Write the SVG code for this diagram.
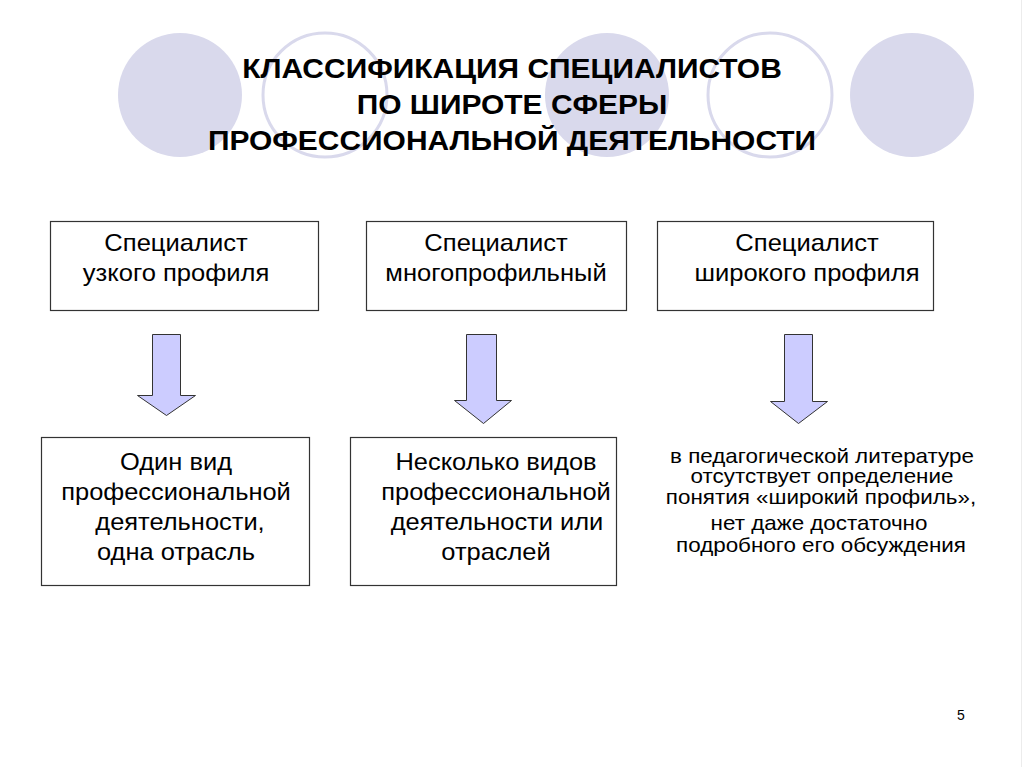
<svg xmlns="http://www.w3.org/2000/svg" width="1024" height="767" viewBox="0 0 1024 767">
<style>
.bg{fill:#ffffff}
.cf{fill:#d9d9ec}
.co{fill:none;stroke:#d9d9ec;stroke-width:3}
.title{font-family:"Liberation Sans",Arial,sans-serif;font-weight:bold;font-size:28px;fill:#000;text-anchor:middle}
.box{fill:#ffffff;stroke:#333333;stroke-width:1.2}
.t24{font-family:"Liberation Sans",Arial,sans-serif;font-size:24px;fill:#000;text-anchor:middle}
.t20{font-family:"Liberation Sans",Arial,sans-serif;font-size:20px;fill:#000;text-anchor:middle}
.arrow{fill:#ccccff;stroke:#333333;stroke-width:1}
.num{font-family:"Liberation Sans",Arial,sans-serif;font-size:14px;fill:#000;text-anchor:middle}
</style>
<rect class="bg" x="0" y="0" width="1024" height="767"/>
<line x1="1021.5" y1="0" x2="1021.5" y2="767" stroke="#ececec" stroke-width="1"/>
<g id="decor">
<circle class="cf" cx="180" cy="95" r="62"/>
<circle class="co" cx="325" cy="95" r="62"/>
<circle class="cf" cx="607" cy="95" r="62"/>
<circle class="co" cx="770" cy="95" r="62"/>
<circle class="cf" cx="912" cy="95" r="62"/>
</g>
<g id="title">
<text class="title" transform="matrix(1.07,0,0,1,512,78)">КЛАССИФИКАЦИЯ СПЕЦИАЛИСТОВ</text>
<text class="title" transform="matrix(1.07,0,0,1,512,114)">ПО ШИРОТЕ СФЕРЫ</text>
<text class="title" transform="matrix(1.07,0,0,1,512,150)">ПРОФЕССИОНАЛЬНОЙ ДЕЯТЕЛЬНОСТИ</text>
</g>
<g id="node-narrow">
<rect class="box" x="50.5" y="221.5" width="268" height="89"/>
<text class="t24" transform="matrix(1.065,0,0,1,176,251)">Специалист</text>
<text class="t24" transform="matrix(1.065,0,0,1,176,281)">узкого профиля</text>
</g>
<g id="node-multi">
<rect class="box" x="366.5" y="221.5" width="260" height="89"/>
<text class="t24" transform="matrix(1.065,0,0,1,496,251)">Специалист</text>
<text class="t24" transform="matrix(1.065,0,0,1,496,281)">многопрофильный</text>
</g>
<g id="node-wide">
<rect class="box" x="657.5" y="221.5" width="276" height="89"/>
<text class="t24" transform="matrix(1.065,0,0,1,807,251)">Специалист</text>
<text class="t24" transform="matrix(1.065,0,0,1,807,281)">широкого профиля</text>
</g>
<g id="node-one">
<rect class="box" x="41.5" y="437.5" width="268" height="148"/>
<text class="t24" transform="matrix(1.06,0,0,1,176,470)">Один вид</text>
<text class="t24" transform="matrix(1.06,0,0,1,176,500)">профессиональной</text>
<text class="t24" transform="matrix(1.06,0,0,1,180,530)">деятельности,</text>
<text class="t24" transform="matrix(1.06,0,0,1,176,560)">одна отрасль</text>
</g>
<g id="node-several">
<rect class="box" x="350.5" y="437.5" width="266" height="148"/>
<text class="t24" transform="matrix(1.06,0,0,1,496,470)">Несколько видов</text>
<text class="t24" transform="matrix(1.06,0,0,1,496,500)">профессиональной</text>
<text class="t24" transform="matrix(1.06,0,0,1,497,530)">деятельности или</text>
<text class="t24" transform="matrix(1.06,0,0,1,496,560)">отраслей</text>
</g>
<g id="node-note">
<text class="t20" transform="matrix(1.12,0,0,1,822,463)">в педагогической литературе</text>
<text class="t20" transform="matrix(1.12,0,0,1,822,483)">отсутствует определение</text>
<text class="t20" transform="matrix(1.12,0,0,1,821,504)">понятия «широкий профиль»,</text>
<text class="t20" transform="matrix(1.12,0,0,1,819,530)">нет даже достаточно</text>
<text class="t20" transform="matrix(1.12,0,0,1,821,552)">подробного его обсуждения</text>
</g>
<g id="connectors">
<polygon class="arrow" points="152.5,334.5 180.5,334.5 180.5,395.5 195.5,395.5 166.5,415.5 137.5,395.5 152.5,395.5"/>
<polygon class="arrow" points="466.5,334.5 496.5,334.5 496.5,400.5 511.5,400.5 483.5,423.5 454.5,400.5 466.5,400.5"/>
<polygon class="arrow" points="784.5,334.5 812.5,334.5 812.5,401.5 827.5,401.5 798.5,423.5 770.5,401.5 784.5,401.5"/>
</g>
<text class="num" x="961" y="720">5</text>
</svg>
